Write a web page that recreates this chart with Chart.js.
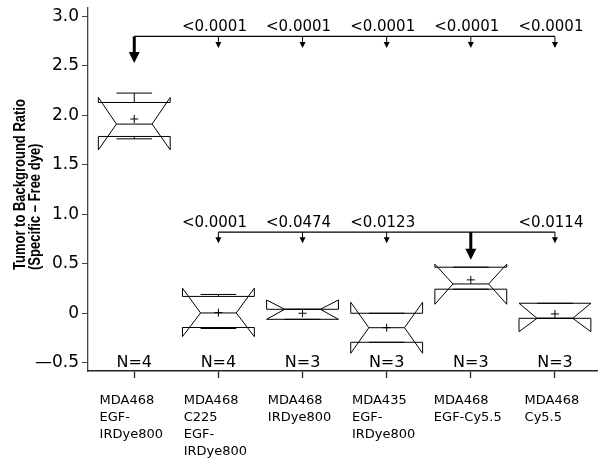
<!DOCTYPE html>
<html>
<head>
<meta charset="utf-8">
<script src="https://cdn.jsdelivr.net/npm/chart.js@4"></script>
<style>
  html, body { margin: 0; padding: 0; background: #fff; }
</style>
</head>
<body>
<canvas id="c" width="602" height="462" style="width:602px;height:462px"></canvas>
<script>
// categories (multi-line) and sample sizes
const categories = [
  ['MDA468', 'EGF-', 'IRDye800'],
  ['MDA468', 'C225', 'EGF-', 'IRDye800'],
  ['MDA468', 'IRDye800'],
  ['MDA435', 'EGF-', 'IRDye800'],
  ['MDA468', 'EGF-Cy5.5'],
  ['MDA468', 'Cy5.5']
];
const nLabels = ['N=4', 'N=4', 'N=3', 'N=3', 'N=3', 'N=3'];

// box statistics
const q1        = [1.785, -0.144, -0.061, -0.293, 0.243, -0.051];
const medians   = [1.910,  0.003,  0.040, -0.146, 0.296, -0.051];
const q3        = [2.128,  0.170,  0.040,  0.000, 0.465,  0.101];
const notchLo   = [1.650, -0.236, -0.061, -0.404, 0.091, -0.186];
const notchHi   = [2.179,  0.253,  0.134,  0.111, 0.495,  0.101];
const whiskerLo = [1.761, -0.154, -0.061, -0.293, 0.243, -0.051];
const whiskerHi = [2.223,  0.190,  0.040,  0.000, 0.465,  0.101];
const means     = [1.961,  0.006,  0.000, -0.146, 0.337, -0.007];

// comparisons (p-values)
const topBracketY = 2.795, topArrowTip = 2.678, topRefTip = 2.527;
const topRef = 0;
const topTargets = [1, 2, 3, 4, 5];
const topP = ['<0.0001', '<0.0001', '<0.0001', '<0.0001', '<0.0001'];

const botBracketY = 0.819, botArrowTip = 0.708, botRefTip = 0.539;
const botRef = 4;
const botTargets = [1, 2, 3, 5];
const botP = ['<0.0001', '<0.0474', '<0.0123', '<0.0114'];

const yTickValues = [-0.5, 0, 0.5, 1.0, 1.5, 2.0, 2.5, 3.0];
const yTickLabels = ['\u20140.5', '0', '0.5', '1.0', '1.5', '2.0', '2.5', '3.0'];

const BOX_HALF = 0.427;
const NOTCH_HALF = 0.212;
const FONT = '"DejaVu Sans", sans-serif';

// notched boxes (notch extends past the box -> "ears")
const boxPlugin = {
  id: 'notchBoxes',
  beforeDatasetsDraw(chart) {
    const { ctx, scales: { x, y } } = chart;
    ctx.save();
    ctx.strokeStyle = '#000';
    ctx.lineWidth = 1;
    categories.forEach((_, i) => {
      const cx = x.getPixelForValue(i);
      const L = x.getPixelForValue(i - BOX_HALF), R = x.getPixelForValue(i + BOX_HALF);
      const Li = x.getPixelForValue(i - NOTCH_HALF), Ri = x.getPixelForValue(i + NOTCH_HALF);
      const yq1 = y.getPixelForValue(q1[i]), yq3 = y.getPixelForValue(q3[i]);
      const ymed = y.getPixelForValue(medians[i]);
      const ynl = y.getPixelForValue(notchLo[i]), ynh = y.getPixelForValue(notchHi[i]);
      const ywl = y.getPixelForValue(whiskerLo[i]), ywh = y.getPixelForValue(whiskerHi[i]);
      ctx.beginPath();
      ctx.moveTo(L, yq3); ctx.lineTo(R, yq3);
      ctx.moveTo(L, yq1); ctx.lineTo(R, yq1);
      [[L, Li], [R, Ri]].forEach(([o, n]) => {
        ctx.moveTo(o, yq3); ctx.lineTo(o, ynh); ctx.lineTo(n, ymed);
        ctx.lineTo(o, ynl); ctx.lineTo(o, yq1);
      });
      ctx.moveTo(Li, ymed); ctx.lineTo(Ri, ymed);
      ctx.moveTo(cx, yq3); ctx.lineTo(cx, ywh);
      ctx.moveTo(Li, ywh); ctx.lineTo(Ri, ywh);
      ctx.moveTo(cx, yq1); ctx.lineTo(cx, ywl);
      ctx.moveTo(Li, ywl); ctx.lineTo(Ri, ywl);
      ctx.stroke();
    });
    ctx.restore();
  }
};

function arrow(ctx, xp, y0, y1, thick) {
  const hw = thick ? 5.5 : 3, hh = thick ? 11 : 6;
  ctx.beginPath();
  ctx.lineWidth = thick ? 3 : 1;
  ctx.moveTo(xp, y0); ctx.lineTo(xp, y1 - hh + 2);
  ctx.stroke();
  ctx.beginPath();
  ctx.moveTo(xp - hw, y1 - hh); ctx.lineTo(xp + hw, y1 - hh); ctx.lineTo(xp, y1);
  ctx.closePath();
  ctx.fill();
}

const annotPlugin = {
  id: 'annotations',
  afterDraw(chart) {
    const { ctx, chartArea, scales: { x, y } } = chart;
    ctx.save();
    ctx.strokeStyle = '#000';
    ctx.fillStyle = '#000';

    // brackets with arrows and p-values
    [[topBracketY, topArrowTip, topRefTip, topRef, topTargets, topP],
     [botBracketY, botArrowTip, botRefTip, botRef, botTargets, botP]].forEach(([by, tip, refTip, ref, targets, ps]) => {
      const yb = y.getPixelForValue(by);
      const all = [ref, ...targets];
      const x0 = x.getPixelForValue(Math.min(...all)), x1 = x.getPixelForValue(Math.max(...all));
      ctx.lineWidth = 1.3;
      ctx.beginPath(); ctx.moveTo(x0, yb); ctx.lineTo(x1, yb); ctx.stroke();
      arrow(ctx, x.getPixelForValue(ref), yb, y.getPixelForValue(refTip), true);
      ctx.font = '15px ' + FONT;
      ctx.textAlign = 'center';
      ctx.textBaseline = 'alphabetic';
      targets.forEach((t, k) => {
        const xp = x.getPixelForValue(t);
        arrow(ctx, xp, yb, y.getPixelForValue(tip), false);
        ctx.fillText(ps[k], xp - 4, yb - 5);
      });
    });

    // N labels
    ctx.font = '16px ' + FONT;
    ctx.textAlign = 'center';
    nLabels.forEach((s, i) => ctx.fillText(s, x.getPixelForValue(i), y.getPixelForValue(-0.538)));

    // category labels: lines left-aligned inside a centred block
    ctx.font = '13px ' + FONT;
    ctx.textAlign = 'left';
    categories.forEach((lines, i) => {
      const w = Math.max(...lines.map(l => ctx.measureText(l).width));
      const left = x.getPixelForValue(i) - w / 2 - 3;
      lines.forEach((l, k) => ctx.fillText(l, left, chartArea.bottom + 33 + k * 17));
    });

    // y-axis title
    ctx.save();
    ctx.translate(25, 270);
    ctx.scale(1.2, 1);
    ctx.rotate(-Math.PI / 2);
    ctx.font = 'bold 13px "Liberation Sans", Arial, sans-serif';
    ctx.textAlign = 'left';
    ctx.fillText('Tumor to Background Ratio', 0, 0);
    ctx.fillText('(Specific \u2013 Free dye)', 0, 12.5);
    ctx.restore();

    ctx.restore();
  }
};

new Chart(document.getElementById('c'), {
  type: 'scatter',
  data: {
    datasets: [{
      label: 'Mean',
      data: means.map((m, i) => ({ x: i, y: m })),
      pointStyle: 'cross',
      pointRadius: 4,
      pointBorderWidth: 1,
      borderColor: '#000',
      backgroundColor: '#000'
    }]
  },
  options: {
    responsive: false,
    animation: false,
    layout: { padding: { top: 8, right: 0, bottom: 0, left: 0 } },
    plugins: { legend: { display: false }, tooltip: { enabled: false } },
    scales: {
      x: {
        type: 'linear',
        min: -0.55,
        max: 5.5,
        afterBuildTicks: s => { s.ticks = categories.map((_, i) => ({ value: i })); },
        afterFit: s => { s.height = 91; s.paddingLeft = 0; s.paddingRight = 0; },
        ticks: { display: false },
        grid: { drawOnChartArea: false, drawTicks: true, tickLength: 7, tickColor: '#222', tickWidth: 1.3 },
        border: { display: true, color: '#222', width: 1.5 }
      },
      y: {
        min: -0.583,
        max: 3.082,
        afterBuildTicks: s => { s.ticks = yTickValues.map(v => ({ value: v })); },
        afterFit: s => { s.width = 88; s.paddingTop = 0; s.paddingBottom = 0; },
        ticks: {
          callback: (v, i) => yTickLabels[i],
          color: '#000',
          padding: 3,
          font: { family: 'DejaVu Sans', size: 17 }
        },
        grid: { drawOnChartArea: false, drawTicks: true, tickLength: 6, tickColor: '#444', tickWidth: 1 },
        border: { display: true, color: '#444', width: 1.3 }
      }
    }
  },
  plugins: [boxPlugin, annotPlugin]
});
</script>
</body>
</html>
